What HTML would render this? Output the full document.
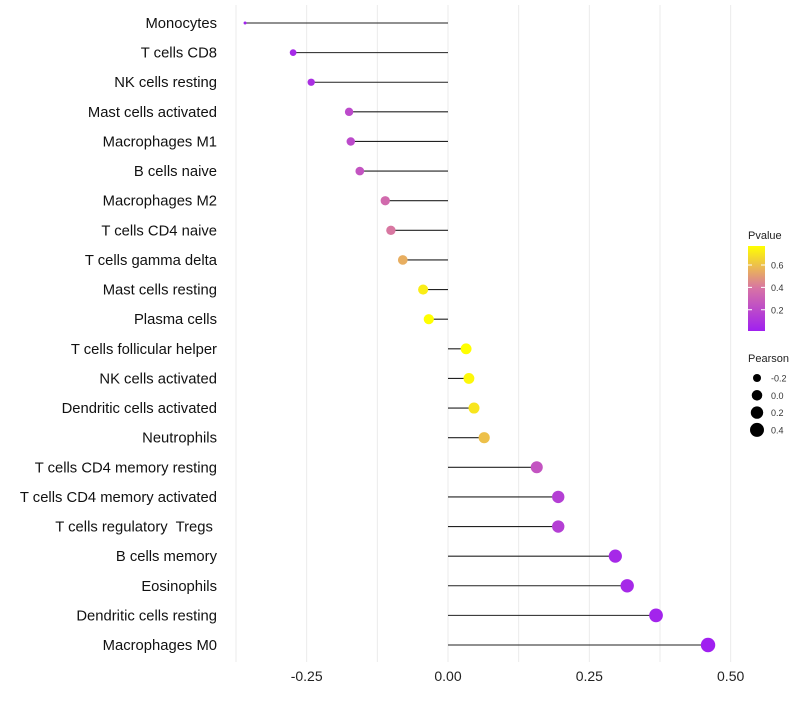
<!DOCTYPE html>
<html><head><meta charset="utf-8"><style>
body{margin:0;background:#fff;font-family:"Liberation Sans",sans-serif;}
svg text{font-family:"Liberation Sans",sans-serif;white-space:pre;}
</style></head><body>
<svg id="c" width="800" height="700"></svg>
<script>
const cells=["Monocytes","T cells CD8","NK cells resting","Mast cells activated","Macrophages M1","B cells naive","Macrophages M2","T cells CD4 naive","T cells gamma delta","Mast cells resting","Plasma cells","T cells follicular helper","NK cells activated","Dendritic cells activated","Neutrophils","T cells CD4 memory resting","T cells CD4 memory activated","T cells regulatory  Tregs ","B cells memory","Eosinophils","Dendritic cells resting","Macrophages M0"];
const pearson=[-0.359,-0.274,-0.242,-0.175,-0.172,-0.156,-0.111,-0.101,-0.080,-0.044,-0.034,0.032,0.037,0.046,0.064,0.157,0.195,0.195,0.296,0.317,0.368,0.460];
const pvalue=[0.02,0.05,0.08,0.2,0.2,0.25,0.35,0.4,0.55,0.72,0.77,0.77,0.75,0.7,0.6,0.25,0.15,0.15,0.05,0.05,0.03,0.01];
const xTicks=[-0.25,0,0.25,0.5];
const xTickLabels=["-0.25","0.00","0.25","0.50"];
const gridVals=[-0.375,-0.25,-0.125,0,0.125,0.25,0.375,0.5];
const pTicks=[0.2,0.4,0.6];
const sizeLegend=[-0.2,0.0,0.2,0.4];

const NS="http://www.w3.org/2000/svg",svg=document.getElementById('c');
function el(t,a,p){const e=document.createElementNS(NS,t);for(const k in a)e.setAttribute(k,a[k]);(p||svg).appendChild(e);return e;}
const x=v=>448+v*565.3;
const y=i=>23+i*(622/21);
const vmin=Math.min(...pearson),vmax=Math.max(...pearson);
const r=v=>1.5+5.7*Math.sqrt(Math.max(0,(v-vmin)/(vmax-vmin)));
const pmin=0.01,pmax=0.77;
function col(p){const t=Math.max(0,Math.min(1,(p-pmin)/(pmax-pmin)));
 const s=[[160,32,240],[215,115,165],[255,255,0]];let a,b,u;
 if(t<0.5){a=s[0];b=s[1];u=t/0.5;}else{a=s[1];b=s[2];u=(t-0.5)/0.5;}
 return `rgb(${a.map((c,i)=>Math.round(c+(b[i]-c)*u)).join(',')})`;}
gridVals.forEach(g=>{const l=el('line',{x1:x(g),x2:x(g),y1:5,y2:662,stroke:'#ebebeb','stroke-width':1});
});
xTicks.forEach((t,i)=>{const tx=el('text',{x:x(t),y:681,'text-anchor':'middle','font-size':14,fill:'#222'});tx.textContent=xTickLabels[i];
});
cells.forEach((c,i)=>{
 const lb=el('text',{x:217,y:y(i)+5,'text-anchor':'end','font-size':14.8,fill:'#111'});lb.textContent=c;
 
 const ln=el('line',{x1:x(0),x2:x(pearson[i]),y1:y(i),y2:y(i),stroke:'#222','stroke-width':1.1});
 
 const pt=el('circle',{cx:x(pearson[i]),cy:y(i),r:r(pearson[i]),fill:col(pvalue[i])});
 
});
const t1=el('text',{x:748,y:239,'font-size':11,fill:'#222'});t1.textContent='Pvalue';

const defs=el('defs',{});const gr=el('linearGradient',{id:'g',x1:0,y1:1,x2:0,y2:0},defs);
for(let k=0;k<=10;k++)el('stop',{offset:k/10,'stop-color':col(pmin+(pmax-pmin)*k/10)},gr);
const gTop=246,gBot=331,pY=p=>gBot-(p-pmin)/(pmax-pmin)*(gBot-gTop);
const bar=el('rect',{x:748,y:gTop,width:17,height:gBot-gTop,fill:'url(#g)'});

pTicks.forEach(p=>{el('line',{x1:748,x2:752,y1:pY(p),y2:pY(p),stroke:'#fff'});el('line',{x1:761,x2:765,y1:pY(p),y2:pY(p),stroke:'#fff'});
 const tt=el('text',{x:771,y:pY(p)+3.5,'font-size':9,fill:'#333'});tt.textContent=p.toFixed(1);
 });
const t2=el('text',{x:748,y:362,'font-size':11,fill:'#222'});t2.textContent='Pearson';

sizeLegend.forEach((v,i)=>{const cy=378+i*17.3;
 const c=el('circle',{cx:757,cy:cy,r:r(v),fill:'#000'});
 const tt=el('text',{x:771,y:cy+3.5,'font-size':9,fill:'#333'});tt.textContent=v.toFixed(1);
 });
</script>
</body></html>
